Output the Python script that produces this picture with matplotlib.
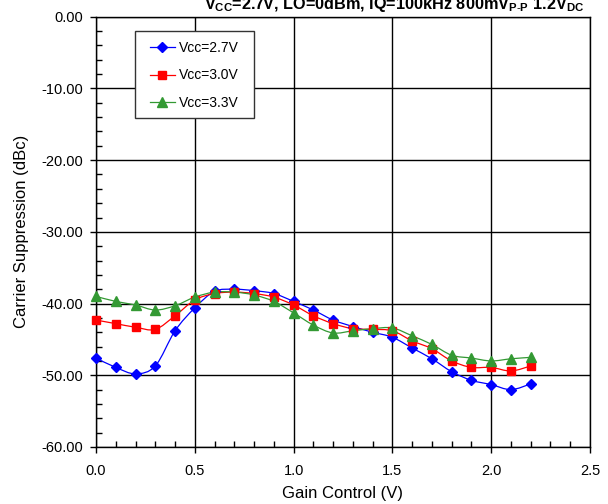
import numpy as np
import matplotlib
matplotlib.use("Agg")
import matplotlib.pyplot as plt
from matplotlib.path import Path
from matplotlib.patches import PathPatch, Rectangle
from matplotlib.ticker import MultipleLocator, FormatStrFormatter

plt.rcParams['font.family'] = ['Liberation Sans', 'DejaVu Sans']
plt.rcParams['mathtext.fontset'] = 'custom'
plt.rcParams['mathtext.rm'] = 'Liberation Sans'
plt.rcParams['mathtext.bf'] = 'Liberation Sans:bold'
plt.rcParams['mathtext.it'] = 'Liberation Sans:italic'

gain = [0.0, 0.1, 0.2, 0.3, 0.4, 0.5, 0.6, 0.7, 0.8, 0.9, 1.0, 1.1,
        1.2, 1.3, 1.4, 1.5, 1.6, 1.7, 1.8, 1.9, 2.0, 2.1, 2.2]
vcc27 = [-47.6, -48.9, -49.8, -48.7, -43.8, -40.6, -38.3, -38.0, -38.2, -38.6,
         -39.7, -40.9, -42.3, -43.2, -44.0, -44.7, -46.2, -47.7, -49.5, -50.7,
         -51.3, -52.0, -51.2]
vcc30 = [-42.3, -42.8, -43.3, -43.6, -41.7, -39.5, -38.6, -38.4, -38.6, -39.1,
         -40.2, -41.7, -42.8, -43.5, -43.6, -43.8, -45.2, -46.3, -48.0, -48.9,
         -48.9, -49.4, -48.7]
vcc33 = [-39.0, -39.7, -40.2, -40.9, -40.3, -39.1, -38.4, -38.4, -38.8, -39.7,
         -41.3, -43.0, -44.1, -43.8, -43.5, -43.4, -44.5, -45.7, -47.2, -47.6,
         -48.0, -47.7, -47.5]
series_labels = ['Vcc=2.7V', 'Vcc=3.0V', 'Vcc=3.3V']
colors = ['#0000FF', '#FF0000', '#339933']
markers = ['D', 's', '^']
msizes = [5, 6, 6.5]


def smooth_path(x, y):
    x = np.asarray(x, float)
    y = np.asarray(y, float)
    n = len(x)
    verts = [(x[0], y[0])]
    codes = [Path.MOVETO]
    for i in range(n - 1):
        i0 = max(i - 1, 0)
        i3 = min(i + 2, n - 1)
        c1 = (x[i] + (x[i + 1] - x[i0]) / 6, y[i] + (y[i + 1] - y[i0]) / 6)
        c2 = (x[i + 1] - (x[i3] - x[i]) / 6, y[i + 1] - (y[i3] - y[i]) / 6)
        verts += [c1, c2, (x[i + 1], y[i + 1])]
        codes += [Path.CURVE4] * 3
    return Path(verts, codes)


fig = plt.figure(figsize=(6.08, 5.04), dpi=100)
ax = fig.add_axes([96 / 608, 1 - 447 / 504, (590 - 96) / 608, (447 - 16.7) / 504])

for ys, lab, c, m, ms in zip([vcc27, vcc30, vcc33], series_labels, colors, markers, msizes):
    ax.add_patch(PathPatch(smooth_path(gain, ys), facecolor='none', edgecolor=c,
                           lw=0.9, zorder=3, clip_on=False))
    ax.plot(gain, ys, linestyle='none', marker=m, color=c, markersize=ms,
            markeredgecolor=c, zorder=4, clip_on=False)
    ax.plot([], [], marker=m, color=c, markersize=ms, lw=0.9, label=lab)

ax.set_xlim(0, 2.5)
ax.set_ylim(-60, 0)
ax.xaxis.set_major_locator(MultipleLocator(0.5))
ax.xaxis.set_minor_locator(MultipleLocator(0.1))
ax.yaxis.set_major_locator(MultipleLocator(10))
ax.yaxis.set_minor_locator(MultipleLocator(2))
ax.xaxis.set_major_formatter(FormatStrFormatter('%.1f'))
ax.yaxis.set_major_formatter(FormatStrFormatter('%.2f'))
ax.tick_params(which='major', direction='out', length=4, width=1, labelsize=10.5,
               colors='black')
ax.tick_params(axis='x', which='major', pad=8)
ax.tick_params(axis='y', which='major', pad=5)
ax.tick_params(which='minor', direction='in', length=4, width=1)
ax.grid(which='major', color='black', lw=1)
for s in ax.spines.values():
    s.set_color('black')
    s.set_linewidth(1)

ax.set_xlabel('Gain Control (V)', fontsize=12, labelpad=6)
ax.set_ylabel('Carrier Suppression (dBc)', fontsize=12, labelpad=9)

# legend box frame
ax.add_patch(Rectangle((0.0789, 0.7646), 0.3198 - 0.0789, 0.9668 - 0.7646,
                       transform=ax.transAxes, facecolor='white', edgecolor='#333333',
                       lw=1, zorder=5))
leg = ax.legend(loc='upper left', bbox_to_anchor=(0.1093, 0.943), borderaxespad=0,
                fontsize=10, frameon=False, handlelength=1.8, borderpad=0,
                labelspacing=0.95, handletextpad=0.3)
leg.set_zorder(6)

fig.text(394 / 608, 1 - 9.5 / 504,
         r'V$_\mathbf{CC}$=2.7V, LO=0dBm, IQ=100kHz 800mV$_{\mathbf{P}\text{-}\mathbf{P}}$ 1.2V$_\mathbf{DC}$',
         ha='center', va='baseline', fontsize=11.7, fontweight='bold')

fig.savefig('out.png', dpi=100)
